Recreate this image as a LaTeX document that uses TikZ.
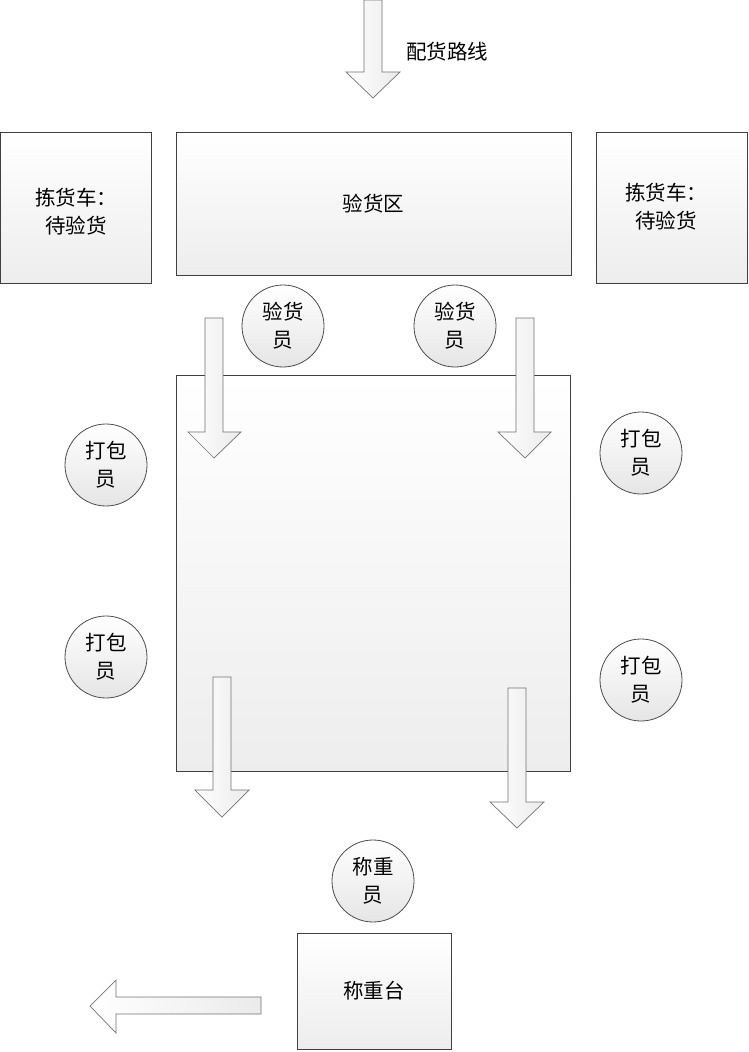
\documentclass[tikz,border=0pt]{standalone}
\usepackage{fontspec}
\newfontfamily\cjk{Noto Sans CJK SC}
\begin{document}
\begin{tikzpicture}[x=1pt,y=-1pt,
  box/.style={draw=black!75,line width=0.9pt,top color=white,bottom color=black!7,inner sep=0pt,
    font=\cjk\fontsize{20.5}{28}\selectfont,align=center},
  person/.style={circle,draw=black!70,line width=0.8pt,top color=white,bottom color=black!10,
    minimum size=82pt,inner sep=0pt,font=\cjk\fontsize{20.5}{28}\selectfont,align=center},
  arr/.style={draw=black!55,line width=0.7pt,left color=white,right color=black!8},
  lbl/.style={font=\cjk\fontsize{20.5}{28}\selectfont,inner sep=0pt}]
\useasboundingbox (0,0) rectangle (749,1052);
\fill[white] (0,0) rectangle (749,1052);

% boxes
\node[box,minimum width=395pt,minimum height=143pt] (check) at (373.5,203.5) {验货区};
\node[box,minimum width=151pt,minimum height=151pt] (cartL) at (75.5,207.5) {};
\node[lbl,align=center] (cartLt) at (76,212) {拣货车：\\待验货};
\node[box,minimum width=151pt,minimum height=151pt] (cartR) at (671.5,207.5) {};
\node[lbl,align=center] (cartRt) at (666,207) {拣货车：\\待验货};
\node[box,minimum width=394pt,minimum height=396pt] (pack) at (373,573) {};
\node[box,minimum width=154pt,minimum height=116pt] (scale) at (374,991) {称重台};

% people
\node[person] (insp1) at (283,326) {验货\\员};
\node[person] (insp2) at (455,326) {验货\\员};
\node[person] (pk1) at (106,465) {打包\\员};
\node[person] (pk2) at (641,453) {打包\\员};
\node[person] (pk3) at (106,657) {打包\\员};
\node[person] (pk4) at (641,680) {打包\\员};
\node[person] (weigher) at (373,881) {称重\\员};

% label
\node[lbl,anchor=west] (route) at (406,52) {配货路线};

% arrows
\draw[arr] (364,0) -- (382,0) -- (382,72) -- (400,72) -- (373,98) -- (346,72) -- (364,72) -- cycle;
\draw[arr] (205,318) -- (223,318) -- (223,432) -- (241,432) -- (214,458) -- (188,432) -- (205,432) -- cycle;
\draw[arr] (516,318) -- (534,318) -- (534,432) -- (551,432) -- (525,458) -- (498,432) -- (516,432) -- cycle;
\draw[arr] (213,677) -- (231,677) -- (231,790) -- (249,790) -- (222,817) -- (195,790) -- (213,790) -- cycle;
\draw[arr] (508,688) -- (526,688) -- (526,802) -- (544,802) -- (517,828) -- (490,802) -- (508,802) -- cycle;
\draw[arr] (261,997) -- (261,1014) -- (116,1014) -- (116,1033) -- (90,1006) -- (116,980) -- (116,997) -- cycle;
\end{tikzpicture}
\end{document}
